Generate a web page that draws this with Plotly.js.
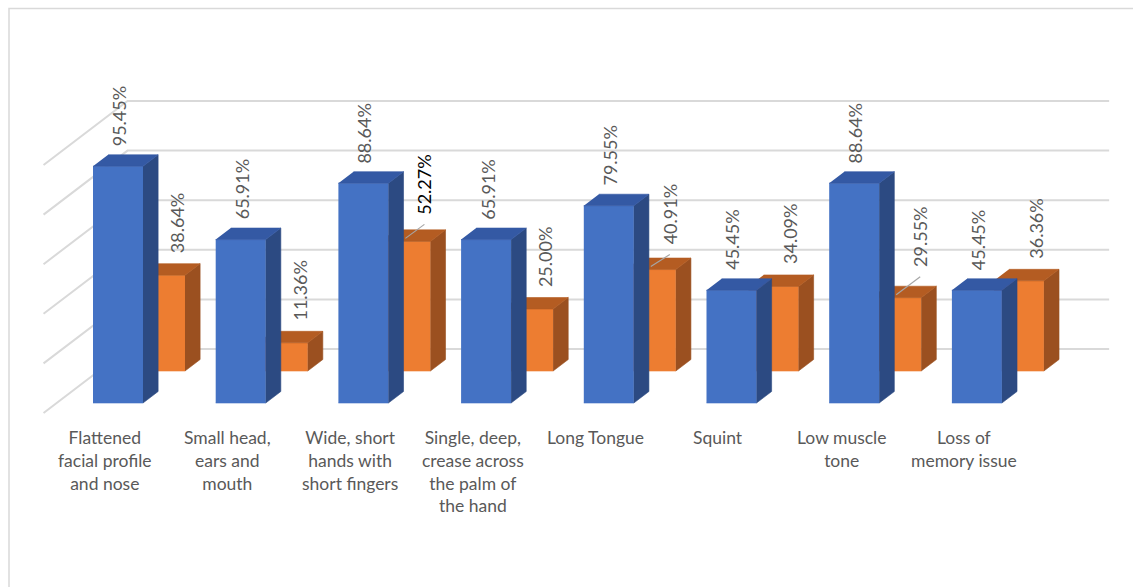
<!DOCTYPE html>
<html><head><meta charset="utf-8">
<script src="https://cdn.plot.ly/plotly-3.0.1.min.js"></script>
<style>html,body{margin:0;padding:0;background:#fff}#chart{width:1133px;height:587px}</style>
</head><body><div id="chart"></div>
<script>
// ---- data ----
const categories = [
  "Flattened<br>facial profile<br>and nose",
  "Small head,<br>ears and<br>mouth",
  "Wide, short<br>hands with<br>short fingers",
  "Single, deep,<br>crease across<br>the palm of<br>the hand",
  "Long Tongue",
  "Squint",
  "Low muscle<br>tone",
  "Loss of<br>memory issue"
];
const frontSeries = [95.45, 65.91, 88.64, 65.91, 79.55, 45.45, 88.64, 45.45];
const backSeries  = [38.64, 11.36, 52.27, 25.00, 40.91, 34.09, 29.55, 36.36];
const gridLevels = [0, 20, 40, 60, 80, 100];

// ---- geometry (pixel scale of the oblique 3D projection) ----
const W_PX = 1133, H_PX = 587;
const U = 122.7;      // px per category
const S = 2.48;       // px per percent
const X0 = 104.9;     // px of category 0 at depth 0
const Y0 = 413;       // px of 0% at depth 0
const DX = 84 / U;    // x shift for full depth
const DY = 64 / S;    // y shift for full depth
const BW = 50 / U;    // bar width
const rows = {
  front: {d0: 0.156, d1: 0.336, face: '#4472C4', side: '#2C4A82', top: '#3459A4', lblDx: 1, lblDy: 18},
  back:  {d0: 0.656, d1: 0.836, face: '#ED7D31', side: '#9B5020', top: '#B45C22', lblDx: 17, lblDy: 20}
};
const labelShift = {back: {2: [2, -5], 4: [2, -3], 6: [7, -9]}};   // moved labels (px) with leader lines
const leaderLabels = {back: [2, 4, 6]};

function P(x, v, d) { return [x + d * DX, v + d * DY]; }

const traces = [];
// gridlines: left wall diagonals + back wall horizontals
(function () {
  const xs = [], ys = [];
  const xl = -0.5, xr = categories.length - 0.5;
  gridLevels.forEach(t => {
    const a = P(xl, t, 0), b = P(xl, t, 1), c = P(xr, t, 1);
    xs.push(a[0], b[0], c[0], null); ys.push(a[1], b[1], c[1], null);
  });
  traces.push({type: 'scatter', mode: 'lines', x: xs, y: ys, line: {color: '#D9D9D9', width: 2}, hoverinfo: 'skip'});
})();

function polyTrace(polys, color) {
  const xs = [], ys = [];
  polys.forEach(p => { p.forEach(pt => { xs.push(pt[0]); ys.push(pt[1]); }); xs.push(null); ys.push(null); });
  return {type: 'scatter', mode: 'lines', x: xs, y: ys, fill: 'toself', fillcolor: color,
          line: {color: color, width: 0.6}, hoverinfo: 'skip'};
}
function addBars(vals, r) {
  const fr = [], sd = [], tp = [];
  vals.forEach((v, i) => {
    const xl = i - BW / 2, xr = i + BW / 2;
    fr.push([P(xl, 0, r.d0), P(xr, 0, r.d0), P(xr, v, r.d0), P(xl, v, r.d0)]);
    sd.push([P(xr, 0, r.d0), P(xr, 0, r.d1), P(xr, v, r.d1), P(xr, v, r.d0)]);
    tp.push([P(xl, v, r.d0), P(xr, v, r.d0), P(xr, v, r.d1), P(xl, v, r.d1)]);
  });
  traces.push(polyTrace(fr, r.face), polyTrace(sd, r.side), polyTrace(tp, r.top));
}
addBars(backSeries, rows.back);
addBars(frontSeries, rows.front);

const annotations = [];
const shapes = [];
const valueFont = {family: 'Lato, "Open Sans", sans-serif', size: 18, color: '#595959'};
const catFont = {family: 'Lato, "Open Sans", sans-serif', size: 17.5, color: '#595959'};

function addLabels(vals, key) {
  const r = rows[key];
  vals.forEach((v, i) => {
    const sh = (labelShift[key] && labelShift[key][i]) || [0, 0];
    const top = P(i, v, r.d0);
    const lx = top[0] + (r.lblDx + sh[0]) / U;
    const ly = top[1] + (r.lblDy - sh[1]) / S;
    const isLeader = (leaderLabels[key] || []).includes(i);
    annotations.push({x: lx, y: ly, xref: 'x', yref: 'y', text: v.toFixed(2) + '%', showarrow: false,
      textangle: -90, xanchor: 'center', yanchor: 'bottom',
      font: Object.assign({}, valueFont, i === 2 && key === 'back' ? {color: '#000000'} : {})});
    if (isLeader) {
      shapes.push({type: 'line', xref: 'x', yref: 'y', x0: top[0], y0: top[1] + 3 / S,
        x1: lx, y1: ly - 8 / S, line: {color: '#A6A6A6', width: 1.2}});
    }
  });
}
addLabels(frontSeries, 'front');
addLabels(backSeries, 'back');

categories.forEach((c, i) => {
  annotations.push({x: i, y: (Y0 - 425) / S, xref: 'x', yref: 'y', text: c, showarrow: false,
    xanchor: 'center', yanchor: 'top', align: 'center', font: catFont});
});

// chart border
shapes.push({type: 'rect', xref: 'paper', yref: 'paper', x0: 9 / W_PX, x1: 1.02, y0: -0.05, y1: 1 - 8.5 / H_PX,
  line: {color: '#D9D9D9', width: 1.5}, layer: 'below'});

const layout = {
  width: W_PX, height: H_PX, margin: {l: 0, r: 0, t: 0, b: 0},
  paper_bgcolor: '#fff', plot_bgcolor: 'rgba(0,0,0,0)', showlegend: false,
  xaxis: {range: [-X0 / U, (W_PX - X0) / U], visible: false, fixedrange: true},
  yaxis: {range: [(Y0 - H_PX) / S, Y0 / S], visible: false, fixedrange: true},
  annotations: annotations, shapes: shapes
};
Plotly.newPlot('chart', traces, layout, {displayModeBar: false, staticPlot: true});
</script></body></html>
